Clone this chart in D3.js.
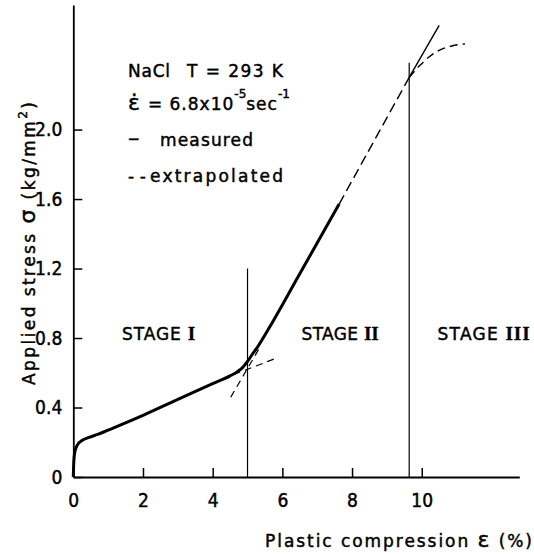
<!DOCTYPE html>
<html><head><meta charset="utf-8">
<script src="https://cdn.jsdelivr.net/npm/d3@7"></script>
<style>body{margin:0;background:#fff} svg{display:block}</style>
</head><body>
<script>
// ---- data ----
const xTicks = [0, 2, 4, 6, 8, 10];
const xTickLabels = ["0", "2", "4", "6", "8", "10"];
const yTicks = [0, 0.4, 0.8, 1.2, 1.6, 2.0];
const yTickLabels = ["0", "0.4", "0.8", "1.2", "1.6", "2.0"];

// measured stress-strain curve (stage I + start of stage II)
const measuredX = [0, 0.015, 0.05, 0.12, 0.25, 0.45, 0.7, 1.0, 2.0, 3.0, 4.0, 4.5, 4.7, 4.85, 5.0, 5.15, 5.3, 5.64, 6.5, 7.63];
const measuredY = [0, 0.09, 0.15, 0.185, 0.21, 0.228, 0.245, 0.27, 0.355, 0.447, 0.537, 0.582, 0.605, 0.628, 0.665, 0.71, 0.752, 0.865, 1.17, 1.571];

// extrapolated stage II line (dashed) up to the stage II/III boundary
const stage2ExtrapX = [7.63, 9.64];
const stage2ExtrapY = [1.571, 2.30];
// continuation of the stage II line beyond (thin solid)
const stage2ContX = [9.64, 10.5];
const stage2ContY = [2.30, 2.60];
// stage III extrapolated curve (dashed)
const stage3X = [9.64, 9.95, 10.43, 10.86, 11.24];
const stage3Y = [2.30, 2.37, 2.449, 2.481, 2.493];
// extrapolated lines at the stage I / II transition (dashed)
const stage1ExtX = [4.6, 5.84];
const stage1ExtY = [0.59, 0.685];
const stage2DownX = [4.52, 5.35];
const stage2DownY = [0.46, 0.745];

// stage boundaries (vertical lines)
const boundaryX = [5.0, 9.64];
const boundaryTop = [1.2, 2.385];

// stage labels
const stageNames = ["STAGE ", "STAGE ", "STAGE "];
const stageNumerals = ["I", "II", "III"];
const stageLabelX = [1.4, 6.55, 10.45];   // left edge, in data units
const stageLabelY = [0.8, 0.8, 0.8];

// ---- chart ----
const W = 534, H = 554;
const svg = d3.select("body").append("svg").attr("width", W).attr("height", H);

const x = d3.scaleLinear().domain([0, 12.8]).range([73.3, 519.3]);
const y = d3.scaleLinear().domain([0, 2.717]).range([477, 5]);

const tickFont = "'Liberation Sans Narrow','DejaVu Sans Condensed','Arial Narrow',sans-serif";
const textFont = "'DejaVu Sans','Liberation Sans',sans-serif";
const thicken = sel => sel.attr("stroke", "#000").attr("stroke-width", 0.45).attr("paint-order", "stroke");

// axes
const gx = svg.append("g").attr("transform", `translate(0,${y(0)})`)
  .call(d3.axisBottom(x).tickValues(xTicks).tickSizeInner(-9).tickSizeOuter(0).tickPadding(17)
    .tickFormat((d, i) => xTickLabels[i]));
const gy = svg.append("g").attr("transform", `translate(${x(0)},0)`)
  .call(d3.axisLeft(y).tickValues(yTicks).tickSizeInner(-9).tickSizeOuter(0).tickPadding(11)
    .tickFormat((d, i) => yTickLabels[i]));
[gx, gy].forEach(g => {
  g.select(".domain").attr("stroke", "#000").attr("stroke-width", 1.8);
  g.selectAll(".tick line").attr("stroke", "#000").attr("stroke-width", 1.5);
  g.selectAll(".tick text").attr("fill", "#000").style("font-family", tickFont).style("font-size", "19px")
    .call(thicken);
});

// boundaries
boundaryX.forEach((bx, i) => {
  svg.append("line").attr("x1", x(bx)).attr("x2", x(bx)).attr("y1", y(0)).attr("y2", y(boundaryTop[i]))
    .attr("stroke", "#000").attr("stroke-width", 1.2);
});

const zip = (a, b) => a.map((v, i) => [v, b[i]]);
const lineStraight = d3.line().x(d => x(d[0])).y(d => y(d[1]));
const lineCurve = d3.line().x(d => x(d[0])).y(d => y(d[1])).curve(d3.curveMonotoneX);

// measured
svg.append("path").datum(zip(measuredX, measuredY))
  .attr("d", lineCurve).attr("fill", "none").attr("stroke", "#000")
  .attr("stroke-width", 3).attr("stroke-linejoin", "round");

svg.append("path").datum(zip(stage2ExtrapX, stage2ExtrapY)).attr("d", lineStraight)
  .attr("fill", "none").attr("stroke", "#000").attr("stroke-width", 1.4).attr("stroke-dasharray", "10,5");
svg.append("path").datum(zip(stage2ContX, stage2ContY)).attr("d", lineStraight)
  .attr("fill", "none").attr("stroke", "#000").attr("stroke-width", 1.4);
svg.append("path").datum(zip(stage3X, stage3Y)).attr("d", lineCurve)
  .attr("fill", "none").attr("stroke", "#000").attr("stroke-width", 1.4).attr("stroke-dasharray", "8,5");
svg.append("path").datum(zip(stage1ExtX, stage1ExtY)).attr("d", lineStraight)
  .attr("fill", "none").attr("stroke", "#000").attr("stroke-width", 1.2).attr("stroke-dasharray", "7,5");
svg.append("path").datum(zip(stage2DownX, stage2DownY)).attr("d", lineStraight)
  .attr("fill", "none").attr("stroke", "#000").attr("stroke-width", 1.2).attr("stroke-dasharray", "7,5");

// stage labels
const stageWidths = [73, 77, 92];
stageNames.forEach((s, i) => {
  const t = svg.append("text").attr("x", x(stageLabelX[i])).attr("y", y(stageLabelY[i]) + 2)
    .style("font-family", textFont).style("font-size", "17px").attr("fill", "#000")
    .attr("textLength", stageWidths[i]).attr("lengthAdjust", "spacing").call(thicken);
  t.append("tspan").text(s);
  t.append("tspan").style("font-family", "'Liberation Serif','DejaVu Serif',serif").style("font-size", "18px")
    .style("font-weight", "bold").text(stageNumerals[i]);
});

// legend block
const leg = svg.append("g").style("font-family", textFont).style("font-size", "17px").attr("fill", "#000");
leg.append("text").attr("x", 128).attr("y", 77).attr("textLength", 42).attr("lengthAdjust", "spacing").text("NaCl").call(thicken);
leg.append("text").attr("x", 187).attr("y", 77).attr("textLength", 96).attr("lengthAdjust", "spacing").text("T = 293 K").call(thicken);
const l2 = leg.append("text").attr("x", 128).attr("y", 110).call(thicken);
l2.append("tspan").style("font-size", "22px").text("ε\u0307");
l2.append("tspan").attr("dx", 8).style("letter-spacing", "1px").text("= 6.8x10");
l2.append("tspan").attr("dy", -12).style("font-size", "12px").text("-5");
l2.append("tspan").attr("dy", 12).style("letter-spacing", "1px").text("sec");
l2.append("tspan").attr("dy", -12).style("font-size", "12px").text("-1");
leg.append("text").attr("x", 128).attr("y", 146).style("font-size", "23px").text("–").call(thicken);
leg.append("text").attr("x", 160).attr("y", 146).attr("textLength", 93).attr("lengthAdjust", "spacing").text("measured").call(thicken);
leg.append("text").attr("x", 128).attr("y", 182).attr("textLength", 18).attr("lengthAdjust", "spacing").text("--").call(thicken);
leg.append("text").attr("x", 150).attr("y", 182).attr("textLength", 133).attr("lengthAdjust", "spacing").text("extrapolated").call(thicken);

// axis titles
const xt = svg.append("text").attr("x", 265).attr("y", 547)
  .style("font-family", textFont).style("font-size", "17px").attr("fill", "#000")
  .attr("textLength", 267).attr("lengthAdjust", "spacing").call(thicken);
xt.append("tspan").text("Plastic  compression ");
xt.append("tspan").style("font-size", "22px").text("ε");
xt.append("tspan").text(" (%)");

const yt = svg.append("text").attr("transform", "translate(35,243.5) rotate(-90)").attr("text-anchor", "middle")
  .style("font-family", textFont).style("font-size", "17px").attr("fill", "#000")
  .attr("textLength", 283).attr("lengthAdjust", "spacing").call(thicken);
yt.append("tspan").text("Applied  stress ");
yt.append("tspan").style("font-size", "22px").text("σ");
yt.append("tspan").text(" (kg/mm");
yt.append("tspan").attr("dy", -8).style("font-size", "12px").text("2");
yt.append("tspan").attr("dy", 8).text(")");
</script>
</body></html>
